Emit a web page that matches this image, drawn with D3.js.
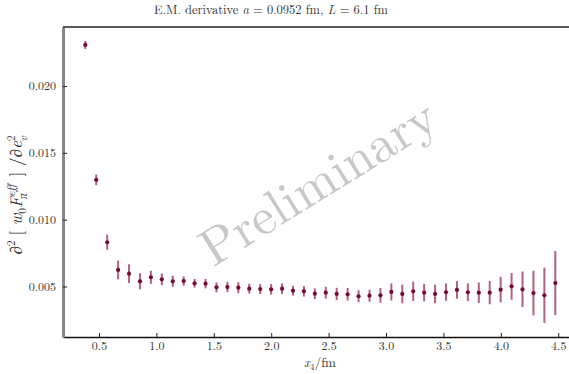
<!DOCTYPE html>
<html>
<head>
<meta charset="utf-8">
<script src="https://cdn.jsdelivr.net/npm/d3@7"></script>
<style>
  body { margin: 0; background: #fff; }
  text { font-family: "Latin Modern Roman", "Liberation Serif", serif; }
</style>
</head>
<body>
<div id="chart"></div>
<script>
// lattice spacing and time slices
const latticeA = 0.0952;
const slices = d3.range(4, 48);

// central values
const values = [
  0.02308, 0.01298, 0.00831, 0.00624, 0.00596, 0.00539, 0.00569, 0.00554,
  0.00539, 0.00541, 0.00524, 0.00521, 0.00494, 0.00496, 0.00491, 0.00484,
  0.00481, 0.00479, 0.00484, 0.00469, 0.00464, 0.00446, 0.00454, 0.00444,
  0.00442, 0.00427, 0.00431, 0.00434, 0.00459, 0.00444, 0.00464, 0.00454,
  0.00444, 0.00457, 0.00474, 0.00457, 0.00454, 0.00454, 0.00476, 0.00501,
  0.00479, 0.00451, 0.00434, 0.00526
];

const errors = [
  0.0003, 0.0004, 0.00056, 0.0007, 0.0007, 0.0006, 0.00049, 0.00044,
  0.00041, 0.00035, 0.00032, 0.00035, 0.00037, 0.00039, 0.00041, 0.00037,
  0.00037, 0.0004, 0.0004, 0.00037, 0.00039, 0.0004, 0.00044, 0.00046,
  0.00047, 0.00045, 0.00045, 0.00055, 0.00064, 0.0007, 0.00073, 0.00066,
  0.00069, 0.00065, 0.00066, 0.00066, 0.00076, 0.00087, 0.00095, 0.001,
  0.00133, 0.00167, 0.00207, 0.0024
];

const xTicks = [0.5, 1.0, 1.5, 2.0, 2.5, 3.0, 3.5, 4.0, 4.5];
const yTicks = [0.005, 0.010, 0.015, 0.020];

const width = 569, height = 374;
const margin = { top: 27, right: 0, bottom: 37, left: 63 };

const svg = d3.select('#chart').append('svg')
  .attr('width', width).attr('height', height);

const x = d3.scaleLinear()
  .domain([0.1864, 4.5937])
  .range([margin.left, width - margin.right]);

const y = d3.scaleLinear()
  .domain([0.00122, 0.02442])
  .range([height - margin.bottom, margin.top]);

const points = slices.map((n, i) => ({ t: n * latticeA, v: values[i], e: errors[i] }));

// watermark behind the data
const wm = svg.append('text')
  .attr('text-anchor', 'middle')
  .attr('fill', '#c8c8c8')
  .style('font-size', '56px')
  .text('Preliminary');
const wmLen = wm.node().getComputedTextLength();
wm.style('font-size', (56 * 268 / wmLen) + 'px')
  .attr('transform', 'translate(327,197) rotate(-31.8)');

// axes
const xAxis = d3.axisBottom(x).tickValues(xTicks).tickFormat(d3.format('.1f'))
  .tickSizeInner(-4).tickSizeOuter(0).tickPadding(4);
const yAxis = d3.axisLeft(y).tickValues(yTicks).tickFormat(d3.format('.3f'))
  .tickSizeInner(-4).tickSizeOuter(0).tickPadding(7);

const gx = svg.append('g')
  .attr('transform', `translate(0,${height - margin.bottom})`)
  .call(xAxis);
const gy = svg.append('g')
  .attr('transform', `translate(${margin.left},0)`)
  .call(yAxis);

[gx, gy].forEach(g => {
  g.selectAll('.tick text').attr('fill', '#333').style('font-size', '12px')
    .style('font-family', '"Latin Modern Roman", serif');
  g.selectAll('.tick line').attr('stroke', '#222');
});
gx.select('.domain').attr('stroke', '#111').attr('stroke-width', 1.5);
gy.select('.domain').attr('stroke', '#888').attr('stroke-width', 3);

// top spine
svg.append('line')
  .attr('x1', margin.left).attr('x2', width)
  .attr('y1', margin.top).attr('y2', margin.top)
  .attr('stroke', '#222').attr('stroke-width', 1.5);

// error bars
svg.append('g').selectAll('line')
  .data(points).join('line')
  .attr('x1', d => x(d.t)).attr('x2', d => x(d.t))
  .attr('y1', d => y(d.v - d.e)).attr('y2', d => y(d.v + d.e))
  .attr('stroke', '#9e3a63').attr('stroke-opacity', 0.8)
  .attr('stroke-width', 2);

// markers
svg.append('g').selectAll('circle')
  .data(points).join('circle')
  .attr('cx', d => x(d.t)).attr('cy', d => y(d.v))
  .attr('r', 2.1)
  .attr('fill', '#760a35');

// title
const title = svg.append('text')
  .attr('x', 271).attr('y', 14)
  .attr('text-anchor', 'middle')
  .attr('fill', '#333')
  .style('font-size', '12.5px');
title.append('tspan').text('E.M. derivative ');
title.append('tspan').attr('font-style', 'italic').text('a');
title.append('tspan').text(' = 0.0952 fm, ');
title.append('tspan').attr('font-style', 'italic').text('L');
title.append('tspan').text(' = 6.1 fm');

// x label
const xl = svg.append('text')
  .attr('x', 320).attr('y', 367)
  .attr('text-anchor', 'middle')
  .attr('fill', '#333')
  .style('font-size', '13px');
xl.append('tspan').attr('font-style', 'italic').text('x');
xl.append('tspan').attr('dy', 3).style('font-size', '9px').text('4');
xl.append('tspan').attr('dy', -3).text('/fm');

// y label
const yl = svg.append('text')
  .attr('text-anchor', 'middle')
  .attr('fill', '#333')
  .style('font-size', '14px');
yl.append('tspan').attr('font-style', 'italic').text('∂');
yl.append('tspan').attr('dy', -6).style('font-size', '9.5px').text('2');
yl.append('tspan').attr('dy', 6).attr('dx', 4).text('[ ');
yl.append('tspan').attr('font-style', 'italic').text('w');
yl.append('tspan').attr('dy', 3).style('font-size', '9.5px').text('0');
yl.append('tspan').attr('dy', -3).attr('font-style', 'italic').text('F');
yl.append('tspan').attr('dy', -6).attr('font-style', 'italic').style('font-size', '9.5px').text('eff');
yl.append('tspan').attr('dx', -12).attr('dy', 10).attr('font-style', 'italic').style('font-size', '9.5px').text('π');
yl.append('tspan').attr('dx', 9).attr('dy', -4).text(' ] /');
yl.append('tspan').attr('font-style', 'italic').text('∂e');
yl.append('tspan').attr('dy', -6).style('font-size', '9.5px').text('2');
yl.append('tspan').attr('dx', -5).attr('dy', 10).attr('font-style', 'italic').style('font-size', '9.5px').text('v');
const ylLen = yl.node().getComputedTextLength();
const ylScale = Math.min(1.22, 130 / ylLen);
yl.attr('transform', `translate(22,195) rotate(-90) scale(${ylScale})`);
</script>
</body>
</html>
